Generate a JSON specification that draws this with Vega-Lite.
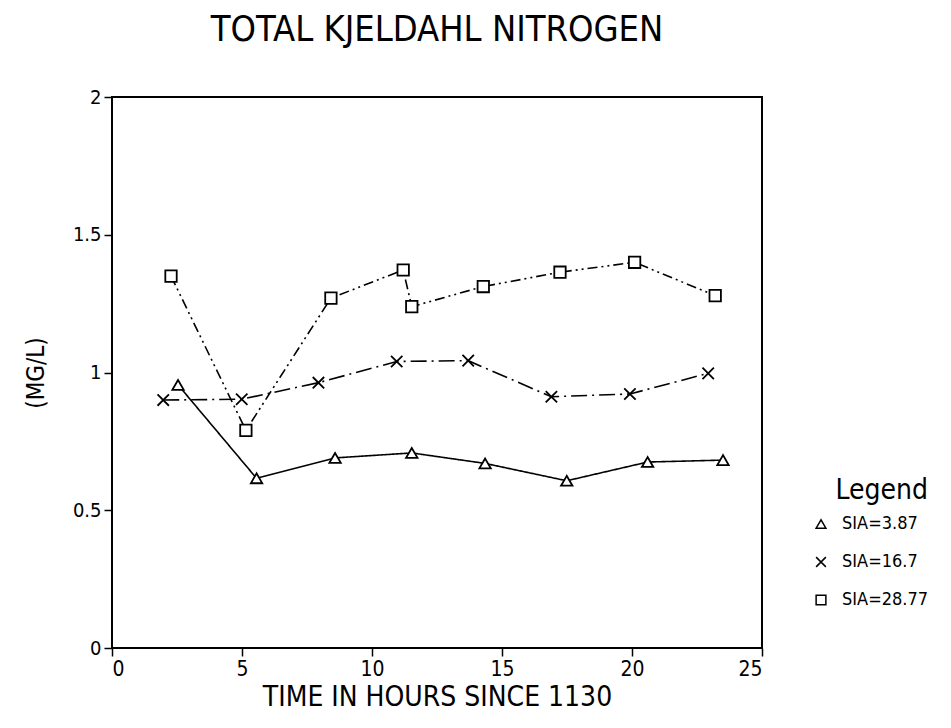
{
  "$schema": "https://vega.github.io/schema/vega-lite/v6.json",
  "width": 650,
  "height": 551,
  "autosize": {"type": "none"},
  "padding": {"left": 112, "top": 97, "right": 189, "bottom": 80},
  "background": "white",
  "config": {
    "view": {"stroke": "black", "strokeWidth": 2},
    "font": "'DejaVu Sans Condensed', 'DejaVu Sans'"
  },
  "title": {
    "text": "TOTAL KJELDAHL NITROGEN",
    "fontSize": 36,
    "font": "'DejaVu Sans Condensed', 'DejaVu Sans'",
    "fontWeight": 200,
    "color": "black",
    "anchor": "middle",
    "offset": 38
  },
  "data": {
    "values": [
      {"series": "SIA=3.87", "x": 2.54, "y": 0.955},
      {"series": "SIA=3.87", "x": 5.56, "y": 0.616},
      {"series": "SIA=3.87", "x": 8.58, "y": 0.69},
      {"series": "SIA=3.87", "x": 11.53, "y": 0.708},
      {"series": "SIA=3.87", "x": 14.35, "y": 0.67},
      {"series": "SIA=3.87", "x": 17.49, "y": 0.607},
      {"series": "SIA=3.87", "x": 20.6, "y": 0.675},
      {"series": "SIA=3.87", "x": 23.5, "y": 0.682},
      {"series": "SIA=16.7", "x": 1.97, "y": 0.9},
      {"series": "SIA=16.7", "x": 4.99, "y": 0.903},
      {"series": "SIA=16.7", "x": 7.94, "y": 0.963},
      {"series": "SIA=16.7", "x": 10.95, "y": 1.04},
      {"series": "SIA=16.7", "x": 13.7, "y": 1.043},
      {"series": "SIA=16.7", "x": 16.9, "y": 0.912},
      {"series": "SIA=16.7", "x": 19.92, "y": 0.922},
      {"series": "SIA=16.7", "x": 22.93, "y": 0.997},
      {"series": "SIA=28.77", "x": 2.27, "y": 1.35},
      {"series": "SIA=28.77", "x": 5.15, "y": 0.79},
      {"series": "SIA=28.77", "x": 8.42, "y": 1.27},
      {"series": "SIA=28.77", "x": 11.2, "y": 1.372},
      {"series": "SIA=28.77", "x": 11.53, "y": 1.239},
      {"series": "SIA=28.77", "x": 14.28, "y": 1.312},
      {"series": "SIA=28.77", "x": 17.23, "y": 1.364},
      {"series": "SIA=28.77", "x": 20.1, "y": 1.4},
      {"series": "SIA=28.77", "x": 23.2, "y": 1.279}
    ]
  },
  "encoding": {
    "x": {
      "field": "x",
      "type": "quantitative",
      "scale": {"domain": [0, 25], "nice": false, "zero": false},
      "axis": {
        "title": "TIME IN HOURS SINCE 1130",
        "values": [0, 5, 10, 15, 20, 25],
        "grid": false,
        "domain": false,
        "tickColor": "black",
        "tickSize": 8,
        "tickWidth": 1.5,
        "labelColor": "black",
        "labelFontSize": 21,
        "labelFontWeight": 200,
        "labelPadding": 2,
        "titleColor": "black",
        "titleFontSize": 28,
        "titleFontWeight": 200,
        "titlePadding": 4
      }
    },
    "y": {
      "field": "y",
      "type": "quantitative",
      "scale": {"domain": [0, 2], "nice": false, "zero": false},
      "axis": {
        "title": "(MG/L)",
        "values": [0, 0.5, 1, 1.5, 2],
        "labelExpr": "'' + datum.value",
        "grid": false,
        "domain": false,
        "tickColor": "black",
        "tickSize": 8,
        "tickWidth": 1.5,
        "labelColor": "black",
        "labelFontSize": 20,
        "labelFontWeight": 200,
        "labelPadding": 3,
        "titleColor": "black",
        "titleFontSize": 24,
        "titleFontWeight": 200,
        "titlePadding": 24
      }
    }
  },
  "layer": [
    {
      "mark": {"type": "line", "color": "black", "strokeWidth": 1.6},
      "encoding": {
        "detail": {"field": "series", "type": "nominal"},
        "strokeDash": {
          "field": "series",
          "type": "nominal",
          "scale": {
            "domain": ["SIA=3.87", "SIA=16.7", "SIA=28.77"],
            "range": [[1, 0], [16, 5, 2, 5], [10, 4, 2, 4, 2, 4]]
          },
          "legend": null
        }
      }
    },
    {
      "mark": {
        "type": "point",
        "filled": true,
        "fill": "white",
        "stroke": "black",
        "strokeWidth": 1.8,
        "size": 130,
        "opacity": 1
      },
      "encoding": {
        "shape": {
          "field": "series",
          "type": "nominal",
          "scale": {
            "domain": ["SIA=3.87", "SIA=16.7", "SIA=28.77"],
            "range": ["triangle-up", "M-1,-1L1,1M-1,1L1,-1", "square"]
          },
          "legend": {
            "title": "Legend",
            "orient": "none",
            "legendX": 700,
            "legendY": 380,
            "titleFontSize": 28,
            "titleFontWeight": 200,
            "titleColor": "black",
            "titlePadding": 10,
            "titleAnchor": "end",
            "labelFontSize": 18,
            "labelFontWeight": 200,
            "labelColor": "black",
            "labelOffset": 12,
            "symbolSize": 95,
            "rowPadding": 20,
            "encode": {
              "symbols": {
                "update": {
                  "stroke": {"value": "black"},
                  "fill": {"value": "white"},
                  "strokeWidth": {"value": 1.5},
                  "opacity": {"value": 1}
                }
              }
            }
          }
        }
      }
    }
  ],
  "resolve": {"legend": {"shape": "independent", "strokeDash": "independent"}}
}
